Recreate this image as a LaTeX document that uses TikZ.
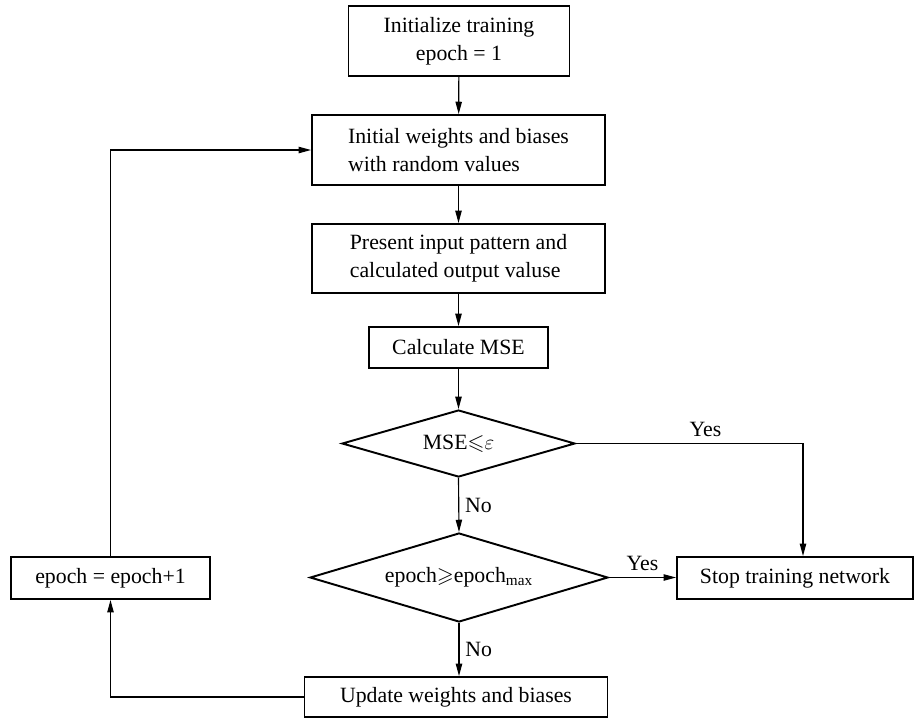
\documentclass[tikz,border=0pt]{standalone}
\usepackage{amsmath,amssymb}
\usepackage{fontspec}
\setmainfont{Liberation Serif}
\usetikzlibrary{arrows.meta, shapes.geometric}

\tikzset{
    flowbox/.style={draw, line width=1.1pt, font=\fontsize{12.4}{16}\selectfont, inner sep=2pt},
    decide/.style={draw, diamond, line width=1.1pt, inner sep=0pt, font=\fontsize{12.4}{16}\selectfont},
    link/.style={->, line width=0.65pt},
    lbl/.style={font=\fontsize{12.4}{14}\selectfont}
}

\begin{document}
\begin{tikzpicture}[>={Stealth[length=7pt, width=3.6pt, inset=0pt]}, scale=1]
    \useasboundingbox (0,0) rectangle (18.44,-14.48);

    % === Main column ===
    \node[flowbox, minimum width=4.42cm, minimum height=1.40cm, align=center] (init) at (9.18,-0.82)
        {Initialize training\\epoch = 1};
    \node[flowbox, minimum width=5.86cm, minimum height=1.40cm, align=left] (weights) at (9.17,-3.00)
        {Initial weights and biases\\with random values};
    \node[flowbox, minimum width=5.86cm, minimum height=1.38cm, align=left] (present) at (9.17,-5.17)
        {Present input pattern and\\calculated output valuse};
    \node[flowbox, minimum width=3.58cm, minimum height=0.82cm] (mse) at (9.17,-6.95) {Calculate MSE};

    % Decisions
    \node[decide, minimum width=4.66cm, minimum height=1.34cm, aspect=3.5] (chk) at (9.17,-8.87)
        {MSE$\leqslant${}$\varepsilon$};
    \node[decide, minimum width=5.96cm, minimum height=1.78cm, aspect=3.3] (maxchk) at (9.18,-11.55)
        {epoch$\geqslant${}epoch$_{\text{max}}$};

    % === Side boxes ===
    \node[flowbox, minimum width=4.72cm, minimum height=0.84cm] (stop) at (15.90,-11.56) {Stop training network};
    \node[flowbox, minimum width=3.98cm, minimum height=0.84cm] (incr) at (2.21,-11.56) {epoch = epoch+1};
    \node[flowbox, minimum width=6.06cm, minimum height=0.80cm] (update) at (9.12,-13.94) {Update weights and biases};

    % Stop entry point (off centre)
    \coordinate (stopin) at ([xshift=0.16cm]stop.north);

    % === Connectors ===
    \draw[link] (init) -- (weights);
    \draw[link] (weights) -- (present);
    \draw[link] (present) -- (mse);
    \draw[link] (mse) -- (chk);
    \draw[link] (chk.east) -- node[lbl, above, pos=0.57] {Yes} (chk.east -| stopin) -- (stopin);
    \draw[link] (chk.south) -- node[lbl, right, midway] {No} (maxchk.north);
    \draw[link] (maxchk.east) -- node[lbl, above, midway] {Yes} (maxchk.east -| stop.west);
    \draw[link] (maxchk.south) -- node[lbl, right, midway] {No} (maxchk.south |- update.north);

    % Loop back
    \draw[link] (update.west) -| (incr.south);
    \draw[link] (incr.north) |- (weights.west);
\end{tikzpicture}
\end{document}
